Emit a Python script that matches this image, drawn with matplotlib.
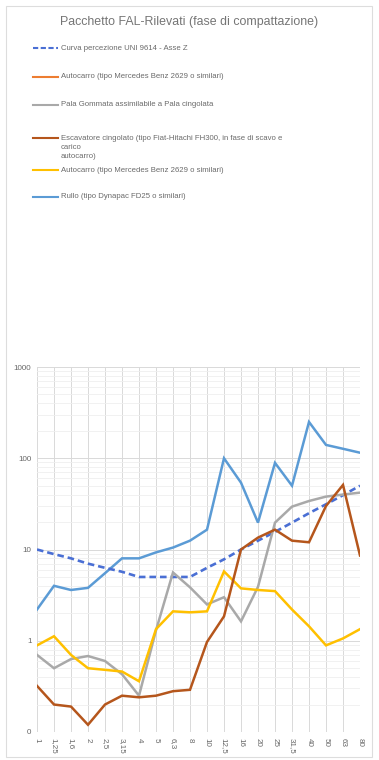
import numpy as np
import matplotlib
matplotlib.use('Agg')
import matplotlib.pyplot as plt
from matplotlib.lines import Line2D
from matplotlib.patches import Rectangle
from matplotlib.ticker import FixedLocator, NullFormatter, LogLocator

plt.rcParams['font.family'] = ['Liberation Sans', 'DejaVu Sans']

# Frequency bands (Hz), as labelled on the category axis
freq_labels = ['1', '1,25', '1,6', '2', '2,5', '3,15', '4', '5', '6,3', '8',
               '10', '12,5', '16', '20', '25', '31,5', '40', '50', '63', '80']

# Series values
curva_uni = [10, 8.9, 8.0, 7.0, 6.3, 5.7, 5.0, 5.0, 5.0, 5.0,
             6.3, 7.8, 10, 12.5, 15.6, 19.7, 25, 31.3, 39.4, 50]
autocarro_orange = []
pala_gommata = [0.70, 0.50, 0.63, 0.68, 0.60, 0.43, 0.25, 1.3, 5.6, 3.85,
                2.5, 3.0, 1.63, 3.9, 19.7, 29.5, 34, 38, 40, 42]
escavatore = [0.32, 0.20, 0.19, 0.12, 0.20, 0.25, 0.24, 0.25, 0.28, 0.29,
              0.97, 1.85, 10, 13.5, 16.5, 12.5, 12, 30, 51, 8.6]
autocarro_yellow = [0.89, 1.12, 0.70, 0.50, 0.48, 0.46, 0.36, 1.34, 2.1, 2.05,
                    2.1, 5.75, 3.75, 3.6, 3.5, 2.2, 1.44, 0.89, 1.06, 1.34]
rullo = [2.2, 4.0, 3.6, 3.8, 5.5, 8.0, 8.0, 9.3, 10.5, 12.5,
         16.5, 100, 54, 19.7, 89, 50, 250, 140, 127, 115]

y_ticks = [0.1, 1, 10, 100, 1000]
y_tick_labels = ['0', '1', '10', '100', '1000']

series = [
    ('Curva percezione UNI 9614 - Asse Z', curva_uni, '#4a6fd4', '--'),
    ('Autocarro (tipo Mercedes Benz 2629 o similari)', autocarro_orange, '#ed7d31', '-'),
    ('Pala Gommata assimilabile a Pala cingolata', pala_gommata, '#a9a9a9', '-'),
    ('Escavatore cingolato (tipo Fiat-Hitachi FH300, in fase di scavo e\ncarico\nautocarro)',
     escavatore, '#b5561c', '-'),
    ('Autocarro (tipo Mercedes Benz 2629 o similari)', autocarro_yellow, '#ffc000', '-'),
    ('Rullo (tipo Dynapac FD25 o similari)', rullo, '#5b9bd5', '-'),
]

fig = plt.figure(figsize=(3.79, 7.60), dpi=100)
fig.patch.set_facecolor('white')

# light frame around the chart
fig.patches.append(Rectangle((6 / 379, 3 / 760), 366 / 379, 751 / 760,
                             transform=fig.transFigure, fill=False,
                             edgecolor='#dddddd', lw=0.8))

fig.text(0.5, 1 - 22 / 760, 'Pacchetto FAL-Rilevati (fase di compattazione)',
         ha='center', va='center', fontsize=8.9, color='#757575')

ax = fig.add_axes([37 / 379, 1 - 732 / 760, 323 / 379, 365 / 760])
x = np.arange(len(freq_labels))

# draw order: blue line behind the others
order = [5, 0, 2, 4, 3, 1]
for k in order:
    label, vals, color, ls = series[k]
    if len(vals) == 0:
        continue
    lw = 1.8 if ls == '-' else 1.9
    ax.plot(x[:len(vals)], vals, color=color, lw=lw, ls=ls,
            dashes=(2.5, 1.5) if ls == '--' else (None, None),
            solid_joinstyle='miter', zorder=3)

ax.set_yscale('log')
ax.set_ylim(0.1, 1000)
ax.set_xlim(0, len(freq_labels) - 1)
ax.yaxis.set_major_locator(FixedLocator(y_ticks))
ax.set_yticklabels(y_tick_labels)
ax.yaxis.set_minor_locator(LogLocator(base=10, subs=np.arange(2, 10)))
ax.yaxis.set_minor_formatter(NullFormatter())
ax.set_xticks(x)
ax.set_xticklabels(freq_labels, rotation=-90, va='top', ha='center')

ax.grid(True, which='major', color='#d9d9d9', lw=0.7)
ax.grid(True, which='minor', axis='y', color='#efefef', lw=0.6)
ax.set_axisbelow(True)
for s in ax.spines.values():
    s.set_visible(False)
ax.tick_params(axis='both', which='both', length=0, labelsize=5.8,
               labelcolor='#666666')
ax.tick_params(axis='y', pad=4)
ax.tick_params(axis='x', pad=4)

# legend, drawn at the top of the figure
legend_y = [48, 77, 105, 138, 170, 197]
for (label, vals, color, ls), yy in zip(series, legend_y):
    yf = 1 - yy / 760
    fig.add_artist(Line2D([33 / 379, 58 / 379], [yf, yf], color=color,
                          lw=1.5, ls=ls,
                          dashes=(2.5, 1.2) if ls == '--' else (None, None),
                          transform=fig.transFigure))
    fig.text(61 / 379, yf + 3.5 / 760, label, ha='left', va='top',
             fontsize=5.6, color='#6a6a6a', linespacing=1.5)

fig.savefig('out.png', dpi=100, facecolor='white')
